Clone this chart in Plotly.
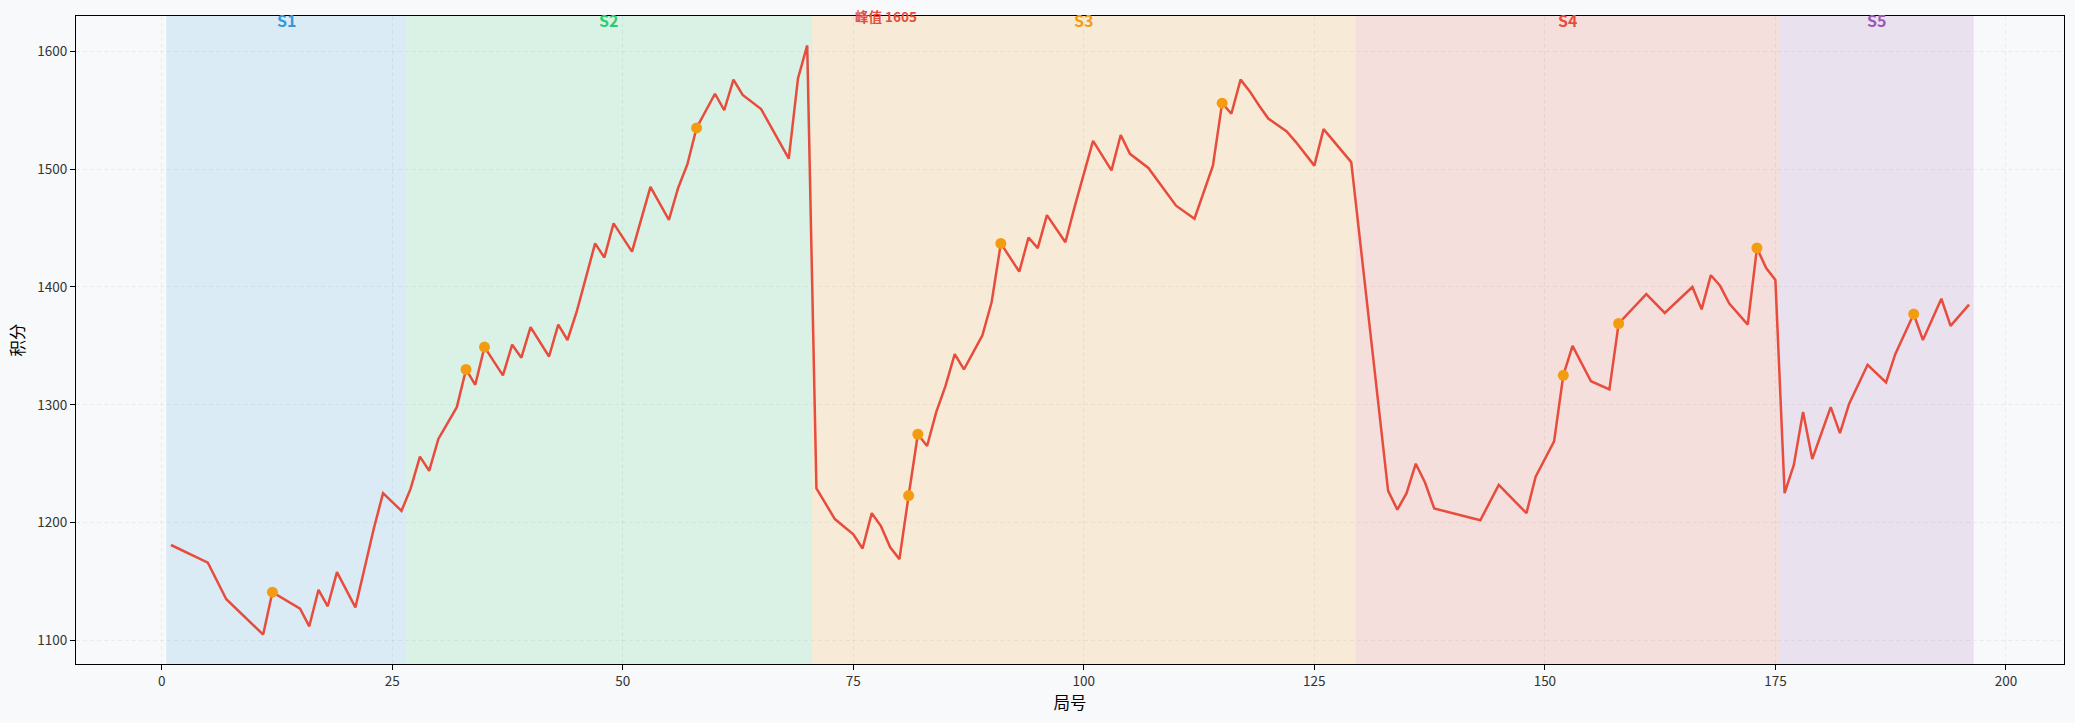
import plotly.graph_objects as go

# ---- data ----
games = [1, 5, 7, 11, 12, 15, 16, 17, 18, 19, 21, 22, 23, 24, 26, 27, 28, 29, 30, 32,
         33, 34, 35, 37, 38, 39, 40, 42, 43, 44, 45, 46, 47, 48, 49, 51, 53, 55, 56, 57,
         58, 60, 61, 62, 63, 65, 68, 69, 70, 71, 73, 75, 76, 77, 78, 79, 80, 81, 82, 83,
         84, 85, 86, 87, 89, 90, 91, 93, 94, 95, 96, 98, 99, 101, 102, 103, 104, 105, 107, 110,
         112, 113, 114, 115, 116, 117, 118, 119, 120, 122, 123, 125, 126, 129, 133, 134, 135, 136, 137, 138,
         143, 145, 148, 149, 151, 152, 153, 155, 157, 158, 161, 163, 166, 167, 168, 169, 170, 172, 173, 174,
         175, 176, 177, 178, 179, 181, 182, 183, 185, 187, 188, 190, 191, 193, 194, 196]
scores = [1181, 1166, 1135, 1105, 1141, 1127, 1112, 1143, 1129, 1158, 1128, 1162, 1195, 1225, 1210, 1229, 1256, 1244, 1271, 1298,
          1330, 1317, 1349, 1325, 1351, 1340, 1366, 1341, 1368, 1355, 1379, 1408, 1437, 1425, 1454, 1430, 1485, 1457, 1484, 1504,
          1535, 1564, 1550, 1576, 1563, 1551, 1509, 1577, 1605, 1229, 1203, 1190, 1178, 1208, 1197, 1179, 1169, 1223, 1275, 1265,
          1294, 1316, 1343, 1330, 1359, 1387, 1437, 1413, 1442, 1433, 1461, 1438, 1468, 1524, 1512, 1499, 1529, 1513, 1501, 1469,
          1458, 1480, 1503, 1556, 1547, 1576, 1566, 1554, 1543, 1532, 1523, 1503, 1534, 1506, 1227, 1211, 1225, 1250, 1234, 1212,
          1202, 1232, 1208, 1239, 1269, 1325, 1350, 1320, 1313, 1369, 1394, 1378, 1400, 1381, 1410, 1401, 1386, 1368, 1433, 1416,
          1406, 1225, 1249, 1294, 1254, 1298, 1276, 1301, 1334, 1319, 1343, 1377, 1355, 1390, 1367, 1385]
highlight_games = [12, 33, 35, 58, 81, 82, 91, 115, 152, 158, 173, 190]

season_names = ["S1", "S2", "S3", "S4", "S5"]
season_first = [1, 27, 71, 130, 176]
season_last = [26, 70, 129, 175, 196]
season_colors = ["#3498db", "#2ecc71", "#f39c12", "#e74c3c", "#9b59b6"]

x_ticks = [0, 25, 50, 75, 100, 125, 150, 175, 200]
y_ticks = [1100, 1200, 1300, 1400, 1500, 1600]

FONT = "Noto Sans CJK SC, Noto Sans, sans-serif"


def rgba(hexc, a):
    h = hexc.lstrip("#")
    r, g, b = int(h[0:2], 16), int(h[2:4], 16), int(h[4:6], 16)
    return f"rgba({r},{g},{b},{a})"


fig = go.Figure()

fig.add_trace(go.Scatter(
    x=games, y=scores, mode="lines",
    line=dict(color="#e74c3c", width=2.5),
    showlegend=False, hoverinfo="x+y",
))

score_of = dict(zip(games, scores))
fig.add_trace(go.Scatter(
    x=highlight_games, y=[score_of[g] for g in highlight_games], mode="markers",
    marker=dict(color="#f39c12", size=11, line=dict(width=0)),
    showlegend=False,
))

shapes = []
annotations = []
for name, a, b, c in zip(season_names, season_first, season_last, season_colors):
    shapes.append(dict(type="rect", xref="x", yref="paper", x0=a - 0.5, x1=b + 0.5,
                       y0=0, y1=1, fillcolor=rgba(c, 0.15), line=dict(width=0), layer="below"))
    annotations.append(dict(x=(a - 0.5 + b + 0.5) / 2, y=1, xref="x", yref="paper",
                            text=f"<b>{name}</b>", showarrow=False, yanchor="middle", yshift=-4,
                            font=dict(family=FONT, size=16, color=c)))

peak_i = scores.index(max(scores))
annotations.append(dict(x=games[peak_i] + 5, y=scores[peak_i] + 25, xref="x", yref="y",
                        text=f"<b>峰值 {scores[peak_i]}</b>", showarrow=False,
                        xanchor="left", yanchor="middle",
                        font=dict(family=FONT, size=13.5, color="#e74c3c")))

fig.update_layout(
    width=2075, height=723,
    margin=dict(l=76, r=11, t=16, b=59),
    paper_bgcolor="#f8f9fa", plot_bgcolor="#f8f9fa",
    shapes=shapes, annotations=annotations,
    font=dict(family=FONT, size=13.5, color="#333333"),
    showlegend=False,
)
grid_common = dict(
    showgrid=True, gridcolor="rgba(0,0,0,0.05)", griddash="4px,3px", gridwidth=0.8,
    showline=True, linecolor="black", linewidth=1, mirror=True,
    ticks="outside", ticklen=5, tickcolor="black", zeroline=False,
)
fig.update_xaxes(
    range=[-9.3, 206.3], tickvals=x_ticks, ticktext=[str(t) for t in x_ticks],
    title=dict(text="局号", font=dict(family=FONT, size=16.5, color="black"), standoff=6),
    **grid_common,
)
fig.update_yaxes(
    range=[1080, 1630], tickvals=y_ticks, ticktext=[str(t) for t in y_ticks],
    title=dict(text="积分", font=dict(family=FONT, size=16.5, color="black"), standoff=8),
    **grid_common,
)

fig.write_html("out.html")
